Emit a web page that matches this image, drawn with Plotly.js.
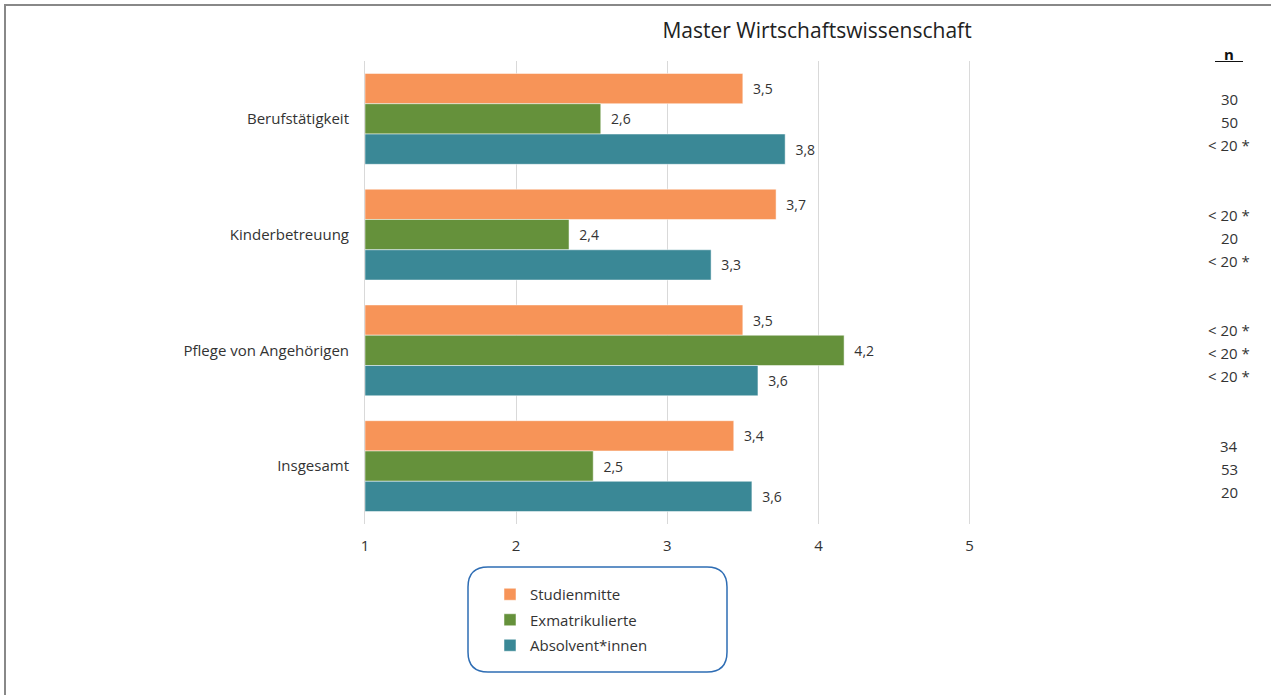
<!DOCTYPE html>
<html>
<head>
<meta charset="utf-8">
<script src="https://cdn.plot.ly/plotly-3.0.1.min.js"></script>
<style>
html,body{margin:0;padding:0;background:#fff;}
#chart{width:1271px;height:695px;}
</style>
</head>
<body>
<div id="chart"></div>
<script>
// ---- data ----
const categories = ["Berufstätigkeit", "Kinderbetreuung", "Pflege von Angehörigen", "Insgesamt"];
const seriesNames = ["Studienmitte", "Exmatrikulierte", "Absolvent*innen"];
const valuesStudienmitte = [3.50, 3.72, 3.50, 3.44];
const valuesExmatrikulierte = [2.56, 2.35, 4.17, 2.51];
const valuesAbsolventen = [3.78, 3.29, 3.60, 3.56];
const nStudienmitte = ["30", "< 20 *", "< 20 *", "34"];
const nExmatrikulierte = ["50", "20", "< 20 *", "53"];
const nAbsolventen = ["< 20 *", "< 20 *", "< 20 *", "20"];
const xTicks = [1, 2, 3, 4, 5];
const axisBase = 1;
const titleText = "Master Wirtschaftswissenschaft";
const nHeader = "n";

// ---- layout geometry (px) ----
const W = 1271, H = 695;
const L = 365, R = 970, T = 61, B = 524;
const xp = px => (px - L) / (R - L);
const yp = py => (B - py) / (B - T);

const colors = ["#F79458", "#65913B", "#3A8896"];
const fontFam = "'Open Sans', 'Noto Sans', sans-serif";
const txtColor = "#333333";
const gridColor = "#d9d9d9";

const allValues = [valuesStudienmitte, valuesExmatrikulierte, valuesAbsolventen];
const allN = [nStudienmitte, nExmatrikulierte, nAbsolventen];

const traces = allValues.map((vals, i) => ({
  type: "bar",
  orientation: "h",
  name: seriesNames[i],
  legendgroup: "g" + i,
  y: categories,
  x: vals.map(v => v - axisBase),
  base: axisBase,
  marker: {color: colors[i], line: {color: "#ffffff", width: 0.5}},
  text: vals,
  texttemplate: "\u00a0\u00a0%{text:.1f}",
  textposition: "outside",
  textfont: {family: fontFam, size: 14, color: txtColor},
  cliponaxis: false,
  hoverinfo: "skip"
}));

const annotations = [];
const yShifts = [20, -3, -26];
allN.forEach((arr, i) => {
  arr.forEach((s, j) => {
    annotations.push({
      xref: "paper", yref: "y", x: xp(1229), y: categories[j],
      text: s, showarrow: false, xanchor: "center", yanchor: "middle",
      yshift: yShifts[i],
      font: {family: fontFam, size: 15, color: txtColor}
    });
  });
});
annotations.push({
  xref: "paper", yref: "paper", x: xp(1229), y: yp(54),
  text: "<b>" + nHeader + "</b>", showarrow: false, xanchor: "center", yanchor: "middle",
  font: {family: fontFam, size: 15, color: "#111111"}
});

// rounded legend box
const bx0 = 468, bx1 = 727, by0 = 567, by1 = 672, r = 20;
const boxPath = [
  `M ${xp(bx0 + r)} ${yp(by0)}`,
  `L ${xp(bx1 - r)} ${yp(by0)}`,
  `Q ${xp(bx1)} ${yp(by0)} ${xp(bx1)} ${yp(by0 + r)}`,
  `L ${xp(bx1)} ${yp(by1 - r)}`,
  `Q ${xp(bx1)} ${yp(by1)} ${xp(bx1 - r)} ${yp(by1)}`,
  `L ${xp(bx0 + r)} ${yp(by1)}`,
  `Q ${xp(bx0)} ${yp(by1)} ${xp(bx0)} ${yp(by1 - r)}`,
  `L ${xp(bx0)} ${yp(by0 + r)}`,
  `Q ${xp(bx0)} ${yp(by0)} ${xp(bx0 + r)} ${yp(by0)}`,
  "Z"
].join(" ");

const lastTick = xTicks[xTicks.length - 1];
const shapes = [
  {type: "line", xref: "x", yref: "paper", x0: lastTick, x1: lastTick, y0: 0, y1: 1, layer: "below", line: {color: gridColor, width: 1}},
  {type: "path", xref: "paper", yref: "paper", path: boxPath, line: {color: "#2E6DB4", width: 1.5}, fillcolor: "rgba(0,0,0,0)"},
  {type: "line", xref: "paper", yref: "paper", x0: xp(4), x1: xp(W + 2), y0: yp(5), y1: yp(5), line: {color: "#888888", width: 2}},
  {type: "line", xref: "paper", yref: "paper", x0: xp(5), x1: xp(5), y0: yp(4), y1: yp(H + 2), line: {color: "#888888", width: 2}},
  {type: "line", xref: "paper", yref: "paper", x0: xp(1215), x1: xp(1243), y0: yp(61.5), y1: yp(61.5), line: {color: "#111111", width: 1}}
];

const layout = {
  width: W, height: H,
  margin: {l: L, r: W - R, t: T, b: H - B, pad: 0, autoexpand: false},
  paper_bgcolor: "#ffffff", plot_bgcolor: "#ffffff",
  separators: ",.",
  font: {family: fontFam, color: txtColor},
  title: {
    text: titleText, xref: "container", yref: "container",
    x: 817 / W, y: 1 - 31 / H, xanchor: "center", yanchor: "middle",
    font: {family: fontFam, size: 21, color: "#222222"}
  },
  barmode: "group",
  bargap: 0.215,
  bargroupgap: 0,
  xaxis: {
    range: [xTicks[0], lastTick + 0.003], tickvals: xTicks,
    showgrid: true, gridcolor: gridColor, gridwidth: 1, zeroline: false,
    ticks: "outside", ticklen: 8, tickcolor: "rgba(0,0,0,0)",
    tickfont: {family: fontFam, size: 15, color: txtColor}, fixedrange: true
  },
  yaxis: {
    type: "category", autorange: "reversed",
    showgrid: false, zeroline: false, showline: true, linecolor: gridColor, linewidth: 1,
    ticks: "outside", ticklen: 12, tickcolor: "rgba(0,0,0,0)",
    tickfont: {family: fontFam, size: 15, color: txtColor}, fixedrange: true
  },
  legend: {
    xref: "container", yref: "container",
    x: 490 / W, y: 1 - 578 / H, xanchor: "left", yanchor: "top",
    orientation: "v", bgcolor: "rgba(0,0,0,0)", borderwidth: 0,
    font: {family: fontFam, size: 15, color: txtColor},
    traceorder: "grouped", tracegroupgap: 3
  },
  showlegend: true,
  annotations: annotations,
  shapes: shapes
};

Plotly.newPlot("chart", traces, layout, {displayModeBar: false, staticPlot: true});
</script>
</body>
</html>
